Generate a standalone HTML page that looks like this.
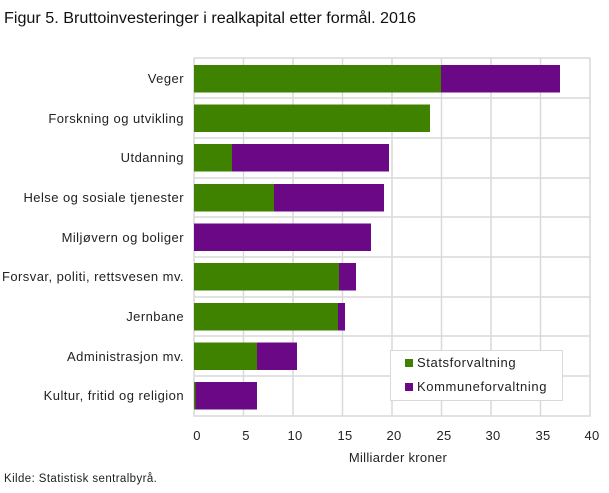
<!DOCTYPE html>
<html><head><meta charset="utf-8"><style>
body{margin:0;background:#fff;width:609px;height:488px;overflow:hidden;font-family:"Liberation Sans","DejaVu Sans",sans-serif;}
</style></head><body>
<svg width="609" height="488" xmlns="http://www.w3.org/2000/svg" font-family="Liberation Sans, DejaVu Sans, sans-serif">
<text x="4" y="23" font-size="15.5" fill="#111" textLength="412" lengthAdjust="spacingAndGlyphs">Figur 5. Bruttoinvesteringer i realkapital etter formål. 2016</text>
<g stroke="#d9d9d9" stroke-width="1.5" fill="none">
<rect x="194" y="58" width="396" height="358"/>
<line x1="243.5" y1="58" x2="243.5" y2="416"/><line x1="293" y1="58" x2="293" y2="416"/>
<line x1="342.5" y1="58" x2="342.5" y2="416"/><line x1="392" y1="58" x2="392" y2="416"/>
<line x1="441.5" y1="58" x2="441.5" y2="416"/><line x1="491" y1="58" x2="491" y2="416"/>
<line x1="540.5" y1="58" x2="540.5" y2="416"/>
<line x1="194" y1="98" x2="590" y2="98"/><line x1="194" y1="138" x2="590" y2="138"/>
<line x1="194" y1="178" x2="590" y2="178"/><line x1="194" y1="217" x2="590" y2="217"/>
<line x1="194" y1="257" x2="590" y2="257"/><line x1="194" y1="297" x2="590" y2="297"/>
<line x1="194" y1="336" x2="590" y2="336"/><line x1="194" y1="376" x2="590" y2="376"/>
</g>
<g>
<rect x="194" y="65" width="247" height="27.5" fill="#3e8200"/><rect x="441" y="65" width="119" height="27.5" fill="#6a0885"/>
<rect x="194" y="104.5" width="236" height="27.5" fill="#3e8200"/>
<rect x="194" y="144" width="38" height="27.5" fill="#3e8200"/><rect x="232" y="144" width="157" height="27.5" fill="#6a0885"/>
<rect x="194" y="184" width="80" height="27.5" fill="#3e8200"/><rect x="274" y="184" width="110" height="27.5" fill="#6a0885"/>
<rect x="194" y="223.5" width="177" height="27.5" fill="#6a0885"/>
<rect x="194" y="263" width="145" height="27.5" fill="#3e8200"/><rect x="339" y="263" width="17" height="27.5" fill="#6a0885"/>
<rect x="194" y="303" width="144" height="27.5" fill="#3e8200"/><rect x="338" y="303" width="7" height="27.5" fill="#6a0885"/>
<rect x="194" y="342.5" width="63" height="27.5" fill="#3e8200"/><rect x="257" y="342.5" width="40" height="27.5" fill="#6a0885"/>
<rect x="194" y="382" width="1.5" height="27.5" fill="#3e8200"/><rect x="195.5" y="382" width="61.5" height="27.5" fill="#6a0885"/>
</g>
<g font-size="13" fill="#222" text-anchor="end" letter-spacing="0.45">
<text x="184" y="83">Veger</text>
<text x="184" y="123">Forskning og utvikling</text>
<text x="184" y="162">Utdanning</text>
<text x="184" y="202">Helse og sosiale tjenester</text>
<text x="184" y="242">Miljøvern og boliger</text>
<text x="184" y="281">Forsvar, politi, rettsvesen mv.</text>
<text x="184" y="321">Jernbane</text>
<text x="184" y="361">Administrasjon mv.</text>
<text x="184" y="400">Kultur, fritid og religion</text>
</g>
<g font-size="13" fill="#222" text-anchor="middle" letter-spacing="0.3">
<text x="197" y="440">0</text><text x="246" y="440">5</text><text x="295" y="440">10</text>
<text x="345" y="440">15</text><text x="394" y="440">20</text><text x="444" y="440">25</text>
<text x="493" y="440">30</text><text x="543" y="440">35</text><text x="592" y="440">40</text>
<text x="398" y="462">Milliarder  kroner</text>
</g>
<rect x="390.5" y="350.5" width="172" height="50" fill="#fff" stroke="#d9d9d9"/>
<rect x="405" y="359" width="8" height="8" fill="#3e8200"/>
<rect x="405" y="383" width="8" height="8" fill="#6a0885"/>
<text x="417" y="367" font-size="13" fill="#222" letter-spacing="0.6">Statsforvaltning</text>
<text x="417" y="391" font-size="13" fill="#222" letter-spacing="0.6">Kommuneforvaltning</text>
<text x="4" y="482" font-size="11.5" fill="#222" letter-spacing="0.4">Kilde: Statistisk sentralbyrå.</text>
</svg>
</body></html>
